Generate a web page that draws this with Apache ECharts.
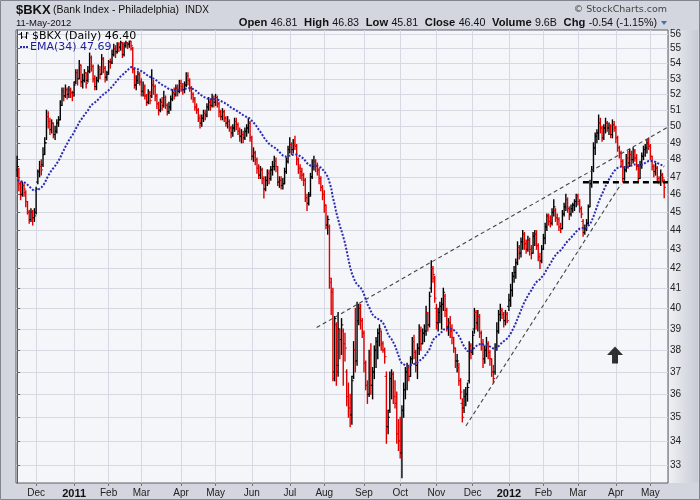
<!DOCTYPE html>
<html><head><meta charset="utf-8">
<script src="https://cdn.jsdelivr.net/npm/echarts@6/dist/echarts.min.js"></script>
<style>html,body{margin:0;padding:0;background:#d3d6de}#c{width:700px;height:500px}</style>
</head><body><div id="c"></div>
<script>
// ---- data (trading-day index 0 = 15-Nov-2010 ... 375 = 11-May-2012) ----
const opens = [
47.4,47.4,46.6,46.0,46.5,46.1,45.6,45.0,44.6,45.0,44.7,45.0,46.7,47.3,47.6,47.7,48.3,49.0,50.6,50.3,
49.8,50.2,49.5,49.7,50.2,50.4,51.3,52.2,51.9,52.3,52.0,52.3,52.1,52.1,52.8,53.4,53.0,53.9,52.8,52.9,
53.4,52.9,53.5,54.4,53.8,53.0,52.5,52.9,53.6,53.3,54.3,53.7,53.1,53.4,54.1,54.1,54.6,55.0,54.8,55.3,
55.1,55.4,54.6,55.2,55.4,55.3,55.5,55.0,53.6,52.6,52.9,53.3,52.8,52.2,52.5,51.9,51.5,52.1,51.9,52.6,
52.5,51.9,51.4,51.0,51.5,51.3,51.8,51.3,50.9,51.2,51.7,52.1,52.0,52.4,52.2,52.7,52.5,52.3,52.6,53.2,
52.9,52.4,52.0,51.7,51.2,51.0,50.5,50.2,50.5,50.8,50.7,51.2,51.5,51.3,51.7,51.5,51.8,51.4,50.9,50.6,
50.9,50.5,50.2,50.3,49.9,49.6,49.9,50.3,50.1,49.7,49.4,49.5,49.3,49.7,49.9,50.2,49.3,48.2,48.4,48.0,
47.5,47.1,47.4,46.9,46.3,46.8,47.2,46.9,47.4,47.6,47.9,47.6,46.7,46.8,46.5,46.6,47.3,47.9,48.6,48.9,
48.6,48.9,48.8,48.0,47.5,47.3,47.1,46.8,45.8,45.5,46.0,47.0,47.6,47.9,47.6,47.4,46.9,46.4,46.0,45.4,
44.3,44.2,41.3,40.8,37.0,39.2,37.3,38.9,38.5,38.9,38.3,37.0,35.9,35.4,35.1,36.8,38.0,37.5,39.4,40.0,
39.4,38.8,37.4,36.4,36.0,37.8,36.4,37.0,38.0,38.4,38.8,38.9,38.3,38.0,36.8,34.6,35.3,36.7,36.9,35.9,
35.6,34.3,34.0,33.5,35.3,36.2,37.0,37.2,36.8,37.6,38.4,37.9,37.3,38.1,38.9,38.3,38.8,38.9,39.8,39.2,
41.0,42.0,41.5,40.0,39.3,39.8,40.1,40.2,40.6,39.9,39.1,39.3,38.9,38.6,38.1,37.5,37.2,36.6,35.6,35.4,
35.9,36.0,36.6,38.2,37.9,39.0,39.8,39.3,39.6,38.8,38.3,37.6,38.0,38.3,37.9,37.6,37.0,37.0,38.1,38.9,
39.7,39.9,39.7,39.4,39.7,40.1,40.4,40.9,41.6,41.8,42.3,43.1,42.8,43.4,43.8,43.3,43.0,43.5,43.0,42.8,
43.7,43.8,43.2,42.6,42.4,43.0,43.6,44.2,44.8,44.5,44.4,45.0,45.1,44.7,44.6,44.2,44.1,44.9,45.3,45.7,
45.2,44.9,45.2,45.4,45.6,45.9,45.6,45.2,44.5,43.9,44.1,44.4,45.3,46.6,47.4,48.7,49.4,49.6,50.2,49.9,
49.3,49.9,50.2,49.9,50.0,49.5,50.1,49.9,49.3,48.7,48.4,47.9,46.9,47.4,48.1,47.8,48.3,48.0,48.5,48.1,
47.6,46.9,47.7,48.2,48.6,48.7,49.0,48.8,48.2,47.6,47.3,47.5,46.9,46.7,47.1,46.81];
const highs = [
48.2,47.5,46.7,46.7,46.6,46.2,45.6,45.1,45.2,45.1,45.2,46.4,47.4,47.9,48.0,48.7,49.3,51.0,50.9,50.5,
50.4,50.2,50.0,50.4,50.6,51.6,52.4,52.4,52.6,52.4,52.5,52.4,52.2,52.8,53.6,53.6,54.2,53.9,53.3,53.6,
53.4,53.8,54.7,54.5,53.9,53.2,53.1,53.9,53.8,54.6,54.4,53.8,53.5,54.2,54.3,54.9,55.3,55.2,55.4,55.4,
55.5,55.4,55.4,55.5,55.4,55.5,55.5,55.1,53.7,53.2,53.5,53.4,53.0,52.8,52.6,52.0,52.3,52.2,53.6,52.9,
52.6,52.0,51.5,51.7,51.8,52.2,51.9,51.4,51.5,51.9,52.3,52.4,52.6,52.6,52.9,52.9,52.7,52.8,53.4,53.4,
53.0,52.5,52.1,51.8,51.4,51.1,50.7,50.7,51.0,51.0,51.4,51.8,51.7,52.0,51.9,52.0,51.9,51.5,51.0,51.1,
51.0,50.6,50.6,50.4,50.0,50.1,50.5,50.5,50.2,49.9,49.8,49.7,49.9,50.1,50.5,50.3,49.4,48.7,48.5,48.1,
47.7,47.6,47.5,47.0,47.0,47.4,47.4,47.6,47.9,48.2,48.1,47.6,47.0,47.0,46.9,47.5,48.1,48.8,49.3,49.0,
49.2,49.4,48.9,48.1,47.7,47.5,47.2,46.9,46.0,46.1,47.2,48.0,48.2,48.0,47.8,47.5,47.0,46.5,46.2,45.4,
44.8,44.3,41.5,41.0,39.6,39.3,39.8,39.0,39.5,39.0,38.8,37.1,36.5,36.0,36.8,38.4,40.0,40.3,40.2,40.2,
39.5,38.9,37.5,36.6,38.0,38.3,37.2,38.2,38.6,39.0,39.2,38.9,38.4,38.1,37.0,35.3,37.0,37.1,37.0,36.6,
36.1,34.9,35.0,35.5,36.5,37.2,37.4,37.3,37.7,38.6,38.7,38.0,38.3,39.2,39.1,39.0,39.2,40.1,39.8,40.8,
42.4,42.1,41.6,40.2,40.0,40.3,40.5,41.0,40.7,40.0,39.5,39.6,39.2,38.6,38.1,37.8,37.4,36.7,35.8,36.2,
36.3,36.5,38.4,38.3,38.9,40.0,39.9,39.9,39.7,38.9,38.5,38.2,38.6,38.4,38.0,37.6,37.3,38.3,39.3,39.9,
40.2,40.0,39.8,39.9,39.8,40.7,41.2,41.8,42.1,42.5,43.4,43.2,43.6,44.0,43.9,43.5,43.7,43.6,43.2,43.9,
44.0,44.0,43.3,42.8,43.2,43.8,44.4,44.9,44.9,44.8,45.2,45.7,45.2,44.9,44.7,44.4,45.1,45.5,46.0,45.8,
45.3,45.4,45.5,45.7,46.0,46.0,45.7,45.3,44.6,44.3,44.6,45.4,46.8,47.6,49.0,49.6,49.8,50.7,50.5,50.0,
50.1,50.5,50.3,50.2,50.1,50.4,50.3,50.0,49.4,48.8,48.5,48.0,47.6,48.3,48.5,48.6,48.5,48.7,48.6,48.3,
47.7,47.9,48.4,48.8,48.9,49.2,49.3,48.9,48.2,47.7,47.8,47.6,47.0,47.4,47.2,46.83];
const lows = [
47.0,46.2,45.7,45.9,45.9,45.3,44.9,44.4,44.5,44.3,44.5,44.9,46.6,47.0,47.1,47.6,48.3,49.2,49.9,49.5,
49.6,49.3,49.2,49.6,50.0,50.4,51.3,51.6,51.8,51.7,51.8,51.8,51.6,51.9,52.7,52.6,53.0,52.5,52.4,52.8,
52.4,52.8,53.4,53.5,52.8,52.3,52.3,52.8,53.0,53.3,53.4,52.8,52.9,53.3,53.7,54.0,54.5,54.4,54.7,54.8,
54.9,54.4,54.5,55.1,55.0,55.1,54.9,53.4,52.4,52.3,52.7,52.6,51.9,51.9,51.7,51.3,51.4,51.4,51.8,52.0,
51.6,51.1,50.7,50.9,51.0,51.2,51.1,50.7,50.8,51.0,51.6,51.7,51.9,51.9,52.1,52.2,52.0,52.1,52.5,52.6,
52.2,51.7,51.5,51.0,50.8,50.3,49.9,50.0,50.3,50.4,50.6,51.0,51.0,51.2,51.2,51.3,51.2,50.6,50.4,50.4,
50.3,50.0,49.9,49.7,49.3,49.4,49.7,49.8,49.5,49.1,49.0,49.0,49.2,49.4,49.6,49.1,48.0,47.9,47.7,47.2,
46.9,46.9,46.6,45.8,46.2,46.5,46.6,46.8,47.1,47.4,47.3,46.5,46.4,46.3,46.3,46.6,47.2,47.8,48.4,48.3,
48.4,48.6,47.7,47.2,46.9,46.8,46.5,45.6,45.1,45.4,45.9,46.9,47.4,47.3,47.1,46.6,46.2,45.7,45.0,44.1,
43.8,41.0,39.7,36.6,36.6,36.4,36.8,37.6,37.8,36.4,37.5,35.5,35.0,34.6,34.7,36.7,37.0,37.3,39.2,39.0,
38.6,37.0,36.2,35.6,35.9,36.0,35.8,36.7,37.2,37.6,38.2,38.0,37.9,37.4,33.9,34.3,35.2,35.8,35.6,35.4,
33.9,33.6,33.3,32.5,35.0,35.8,36.2,36.6,36.8,37.4,37.6,37.0,36.7,37.8,38.0,38.3,38.4,38.7,38.9,39.1,
40.8,41.3,40.3,39.0,38.9,39.3,39.0,39.9,39.6,38.9,38.7,38.6,38.3,37.9,37.2,37.0,36.4,35.8,34.8,35.2,
35.5,35.7,36.5,37.6,37.8,38.8,39.0,38.9,38.6,38.0,37.2,37.4,37.7,37.6,37.3,36.8,36.5,36.9,38.0,38.8,
39.4,39.5,39.1,39.2,39.3,39.9,40.1,40.6,41.3,41.5,42.2,42.5,42.6,43.0,43.0,42.8,42.9,42.7,42.5,42.8,
43.2,43.0,42.4,42.0,42.3,43.0,43.3,44.0,44.3,44.2,44.3,44.8,44.5,44.3,44.0,43.9,44.1,44.8,45.1,45.0,
44.6,44.8,45.0,45.1,45.3,45.4,45.0,44.7,43.7,43.8,44.0,44.3,45.3,46.4,47.3,48.3,49.0,49.2,49.6,49.1,
49.2,49.6,49.7,49.5,49.3,49.3,49.7,49.0,48.5,48.1,47.6,46.7,46.8,47.3,47.5,47.6,47.7,47.8,47.9,47.4,
46.7,46.9,47.5,48.0,48.2,48.4,48.6,48.0,47.4,47.0,47.1,46.7,46.6,46.5,46.7,45.81];
const closes = [
47.6,46.6,46.0,46.5,46.3,45.6,45.0,44.6,45.0,44.7,44.8,46.3,47.3,47.6,47.4,48.3,49.0,50.6,50.3,49.8,
50.2,49.5,49.7,50.2,50.4,51.3,52.2,51.9,52.3,52.0,52.3,52.1,51.9,52.6,53.4,53.0,53.9,52.8,52.9,53.4,
52.7,53.5,54.4,53.8,53.0,52.5,52.9,53.6,53.3,54.3,53.7,53.1,53.3,54.1,54.0,54.6,55.0,54.7,55.3,55.1,
55.4,54.6,55.2,55.4,55.3,55.5,55.2,53.6,52.6,52.9,53.3,52.8,52.2,52.5,51.9,51.5,52.1,51.6,52.6,52.5,
51.9,51.4,51.0,51.5,51.2,51.8,51.3,50.9,51.2,51.7,52.1,51.9,52.4,52.2,52.7,52.5,52.3,52.6,53.2,52.9,
52.4,52.0,51.7,51.2,51.0,50.5,50.2,50.5,50.8,50.6,51.2,51.5,51.3,51.7,51.5,51.8,51.4,50.9,50.6,50.9,
50.5,50.2,50.3,49.9,49.6,49.9,50.3,50.1,49.7,49.4,49.5,49.3,49.7,49.9,50.2,49.3,48.2,48.4,48.0,47.5,
47.1,47.4,46.9,46.3,46.8,47.2,46.9,47.4,47.6,47.9,47.6,46.7,46.8,46.5,46.6,47.3,47.9,48.6,48.9,48.6,
48.9,48.8,48.0,47.5,47.3,47.1,46.8,45.8,45.5,45.9,47.0,47.6,47.9,47.6,47.4,46.9,46.4,46.0,45.4,44.3,
44.6,41.5,40.8,36.7,39.5,37.0,39.0,38.5,39.2,38.3,38.1,35.9,35.4,35.1,36.6,38.0,37.5,39.4,40.0,39.4,
38.8,37.4,36.4,36.0,37.8,36.4,37.0,38.0,38.4,38.8,39.0,38.3,38.0,37.7,34.6,35.0,36.7,36.9,35.9,35.6,
34.3,34.0,33.5,35.3,36.2,37.0,37.2,36.8,37.6,38.4,37.9,37.3,38.1,38.9,38.3,38.8,38.9,39.8,39.2,40.6,
42.0,41.7,40.5,39.3,39.8,40.1,40.2,40.8,39.9,39.1,39.3,38.9,38.6,38.1,37.5,37.5,36.6,36.1,35.0,35.9,
36.0,36.3,38.2,37.9,38.7,39.8,39.3,39.6,38.8,38.3,37.6,38.0,38.3,37.9,37.6,37.0,36.7,38.1,38.9,39.7,
39.9,39.7,39.4,39.7,39.4,40.4,40.9,41.6,41.8,42.3,43.1,42.8,43.4,43.8,43.3,43.0,43.5,43.0,42.8,43.7,
43.8,43.2,42.6,42.4,43.0,43.6,44.2,44.8,44.5,44.4,45.0,45.3,44.7,44.6,44.2,44.1,44.9,45.3,45.7,45.2,
44.9,45.2,45.4,45.6,45.9,45.6,45.2,44.9,43.9,44.1,44.4,45.3,46.6,47.4,48.7,49.4,49.6,50.2,49.9,49.3,
49.9,50.2,49.9,50.0,49.5,50.1,49.9,49.3,48.7,48.4,47.9,46.9,47.4,48.1,47.8,48.3,48.0,48.5,48.1,47.6,
46.9,47.7,48.2,48.6,48.7,49.0,48.8,48.2,47.6,47.3,47.5,46.9,46.7,47.1,46.94,46.40];

// month starts (trading-day index) and their labels
const monthTickIdx = [11,33,53,72,95,115,136,158,178,201,222,243,264,285,305,325,347,367];
const monthTickLabels = ['Dec','2011','Feb','Mar','Apr','May','Jun','Jul','Aug','Sep','Oct','Nov','Dec','2012','Feb','Mar','Apr','May'];
const priceTicks = [33,34,35,36,37,38,39,40,41,42,43,44,45,46,47,48,49,50,51,52,53,54,55,56];

// EMA(34) settings (value at the first visible bar)
const emaPeriod = 34;
const emaSeed = 46.8;
const emaLast = '47.69';

// annotations: [index, price]
const trendLineUpper = [[173.6, 39.07], [377.2, 49.96]];
const trendLineLower = [[260.1, 34.63], [350.0, 46.59]];
const supportLine = [[327.9, 46.69], [377.2, 46.69]];
const arrowMark = [346.5, 37.78];

// ---- chart ----
const n = closes.length;
const ohlcData = closes.map((c, i) => [i, opens[i], highs[i], lows[i], c]);
const kE = 2 / (emaPeriod + 1);
const ema = [];
let e = emaSeed;
for (let i = 0; i < n; i++) { if (i > 0) e = e + kE * (closes[i] - e); ema.push([i, +e.toFixed(3)]); }

function renderOHLC(params, api) {
  const i = api.value(0);
  const o = api.value(1), h = api.value(2), l = api.value(3), c = api.value(4);
  const top = api.coord([i, h]), bot = api.coord([i, l]);
  const yo = api.coord([i, o])[1], yc = api.coord([i, c])[1];
  const up = i === 0 || c >= closes[i - 1];
  const col = up ? '#000000' : '#e00000';
  const x = top[0];
  return { type: 'group', children: [
    { type: 'line', shape: { x1: x, y1: top[1] - 0.5, x2: x, y2: bot[1] + 0.5 }, style: { stroke: col, lineWidth: 1.4 } },
    { type: 'line', shape: { x1: x - 1.8, y1: yo, x2: x, y2: yo }, style: { stroke: col, lineWidth: 1 } },
    { type: 'line', shape: { x1: x, y1: yc, x2: x + 1.8, y2: yc }, style: { stroke: col, lineWidth: 1 } }
  ]};
}

const chart = echarts.init(document.getElementById('c'), null, { renderer: 'canvas', width: 700, height: 500 });
const SANS = '"Liberation Sans", Arial, sans-serif';
const VERD = '"DejaVu Sans", Verdana, sans-serif';
chart.setOption({
  animation: false,
  backgroundColor: '#d3d6de',
  grid: { left: 16, top: 30, right: 32, bottom: 17, show: true, backgroundColor: '#f5f6f9', borderColor: '#5a5e66', borderWidth: 1, containLabel: false },
  xAxis: {
    type: 'value', min: -0.66, max: 377.2,
    axisLine: { show: false },
    axisTick: { show: true, customValues: monthTickIdx, length: 3, lineStyle: { color: '#777' } },
    axisLabel: { customValues: monthTickIdx, color: '#222', fontSize: 10, fontFamily: SANS, margin: 5,
      formatter: v => { const s = monthTickLabels[monthTickIdx.indexOf(Math.round(v))] || ''; return /^\d{4}$/.test(s) ? '{b|' + s + '}' : s; },
      rich: { b: { fontWeight: 'bold', fontSize: 11, fontFamily: SANS, color: '#111' } } },
    splitLine: { show: true, lineStyle: { color: '#d6d9e1', width: 1 } }
  },
  yAxis: {
    type: 'log', logBase: 10, position: 'right', min: 32.29, max: 56.27,
    axisLine: { show: true, lineStyle: { color: '#5a5e66' } },
    axisTick: { show: true, customValues: priceTicks, length: 3, lineStyle: { color: '#666' } },
    axisLabel: { customValues: priceTicks, color: '#222', fontSize: 10, fontFamily: SANS, margin: 2 },
    splitLine: { show: true, lineStyle: { color: '#d6d9e1', width: 1 } }
  },
  series: [
    { type: 'custom', name: '$BKX', renderItem: renderOHLC, data: ohlcData, encode: { x: 0, y: [2, 3] }, clip: true, z: 3 },
    { type: 'line', name: 'EMA(34)', data: ema, symbol: 'none', clip: true, z: 4,
      lineStyle: { color: '#2b2bb0', width: 2, type: [2, 1.6] } },
    { type: 'line', data: trendLineUpper, symbol: 'none', clip: true, z: 5, lineStyle: { color: '#444', width: 1.1, type: [4, 3] } },
    { type: 'line', data: trendLineLower, symbol: 'none', clip: true, z: 5, lineStyle: { color: '#444', width: 1.1, type: [4, 3] } },
    { type: 'line', data: supportLine, symbol: 'none', clip: true, z: 5, lineStyle: { color: '#000', width: 2.5, type: [6, 4] } },
    { type: 'scatter', data: [arrowMark], symbol: 'path://M8,0L16,8L11,8L11,16L5,16L5,8L0,8Z', symbolSize: [16, 17], itemStyle: { color: '#000' }, z: 6 }
  ],
  graphic: [
    { type: 'rect', silent: true, z: -10, shape: { x: 669, y: 30, width: 29, height: 453 },
      style: { fill: new echarts.graphic.LinearGradient(0, 0, 1, 0, [{ offset: 0, color: '#eef0f4' }, { offset: 1, color: '#c8ccd5' }]) } },
    { type: 'rect', silent: true, z: 100, shape: { x: 0.5, y: 0.5, width: 699, height: 499 }, style: { fill: 'none', stroke: '#80858f', lineWidth: 1 } },
    { type: 'text', x: 16, y: 10, style: { text: '$BKX', font: 'bold 13px ' + SANS, fill: '#111', verticalAlign: 'middle' } },
    { type: 'text', x: 53, y: 10, style: { text: '(Bank Index - Philadelphia)', font: '10.5px ' + SANS, fill: '#111', verticalAlign: 'middle' } },
    { type: 'text', x: 185, y: 10, style: { text: 'INDX', font: '10px ' + SANS, fill: '#111', verticalAlign: 'middle' } },
    { type: 'text', x: 16, y: 23, style: { text: '11-May-2012', font: '9.5px ' + SANS, fill: '#111', verticalAlign: 'middle' } },
    { type: 'text', x: 667, y: 10, style: { text: '\u00a9 StockCharts.com', font: '9.5px ' + VERD, fill: '#444', align: 'right', verticalAlign: 'middle' } },
    { type: 'text', x: 657, y: 23, style: {
        text: '{b|Open} {n|46.81}  {b|High} {n|46.83}  {b|Low} {n|45.81}  {b|Close} {n|46.40}  {b|Volume} {n|9.6B}  {b|Chg} {n|-0.54 (-1.15%)}',
        align: 'right', verticalAlign: 'middle',
        rich: { b: { font: 'bold 11.2px ' + SANS, fill: '#111' }, n: { font: '10.7px ' + SANS, fill: '#111' } } } },
    { type: 'polygon', shape: { points: [[661, 21], [667, 21], [664, 25]] }, style: { fill: '#4a6fb0' } },
    // legend inside the plot
    { type: 'group', z: 100, children: [
      { type: 'line', z: 100, shape: { x1: 21.5, y1: 32, x2: 21.5, y2: 39 }, style: { stroke: '#000', lineWidth: 1 } },
      { type: 'line', z: 100, shape: { x1: 19.5, y1: 34, x2: 21.5, y2: 34 }, style: { stroke: '#000', lineWidth: 1 } },
      { type: 'line', z: 100, shape: { x1: 21.5, y1: 37, x2: 23.5, y2: 37 }, style: { stroke: '#000', lineWidth: 1 } },
      { type: 'line', z: 100, shape: { x1: 26.5, y1: 32, x2: 26.5, y2: 39 }, style: { stroke: '#000', lineWidth: 1 } },
      { type: 'line', z: 100, shape: { x1: 24.5, y1: 37, x2: 26.5, y2: 37 }, style: { stroke: '#000', lineWidth: 1 } },
      { type: 'line', z: 100, shape: { x1: 26.5, y1: 33, x2: 28.5, y2: 33 }, style: { stroke: '#000', lineWidth: 1 } }
    ] },
    { type: 'text', z: 100, x: 32, y: 36, style: { text: '$BKX (Daily) 46.40', font: '11px ' + VERD, fill: '#000', verticalAlign: 'middle' } },
    { type: 'rect', z: 100, shape: { x: 20, y: 46, width: 2, height: 2 }, style: { fill: '#2b2bb0' } },
    { type: 'rect', z: 100, shape: { x: 23, y: 46, width: 2, height: 2 }, style: { fill: '#2b2bb0' } },
    { type: 'rect', z: 100, shape: { x: 26, y: 46, width: 2, height: 2 }, style: { fill: '#2b2bb0' } },
    { type: 'text', z: 100, x: 30, y: 47, style: { text: 'EMA(34) ' + emaLast, font: '11px ' + VERD, fill: '#1e1e9a', verticalAlign: 'middle' } }
  ]
});
</script>
</body></html>
